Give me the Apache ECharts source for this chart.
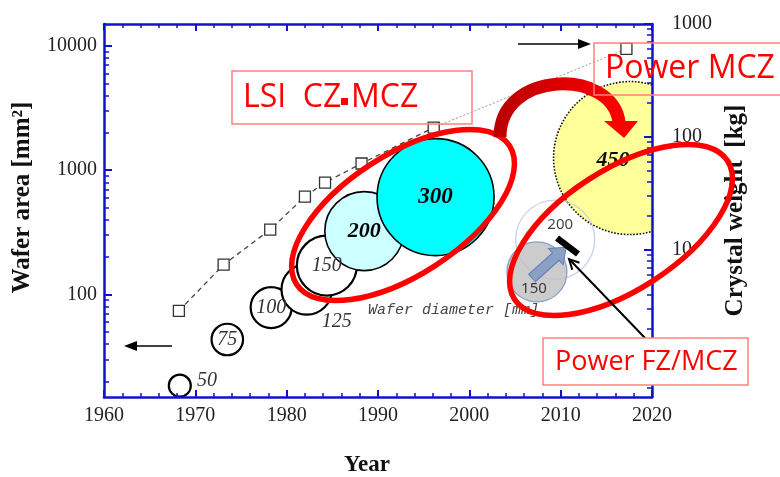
<!DOCTYPE html>
<html>
<head>
<meta charset="utf-8">
<title>Wafer area / crystal weight</title>
<script src="https://cdn.jsdelivr.net/npm/echarts@6.0.0/dist/echarts.min.js"></script>
<style>
  html, body { margin: 0; padding: 0; background: #fff; }
  #chart { width: 780px; height: 477px; }
</style>
</head>
<body>
<div id="chart"></div>
<script>
// wafer area (open squares, left axis)
var areaYears = [1968.2, 1973.1, 1978.2, 1982.0, 1984.2, 1988.2, 1996.1, 2017.2];
var areaValues = [74, 174, 333, 614, 796, 1133, 2203, 9460];

// LSI CZ/MCZ wafers: year, height on left axis, diameter [mm]
var lsiYears = [1968.3, 1973.5, 1978.3, 1982.2, 1984.4, 1988.5, 1996.3];
var lsiPos = [18.5, 43.5, 78.6, 110, 171, 324, 608];
var lsiDiameters = [50, 75, 100, 125, 150, 200, 300];

// power FZ/MCZ wafers
var fzYears = [2009.4, 2007.4];
var fzPos = [277, 152];
var fzDiameters = [200, 150];

// power MCZ wafer
var mczYears = [2017.6];
var mczPos = [1253];
var mczDiameters = [450];

// tick labels
var areaTicks = [100, 1000, 10000];
var weightTicks = [1, 10, 100, 1000];

var blue = '#1212cc';
var red = '#ff0000';
var serif = 'Liberation Serif';
var sans = '"Open Sans", "DejaVu Sans"';

// minor ticks 2..9 in every decade between lo and hi
function minorTicks(lo, hi) {
  var out = [];
  for (var dec = lo; dec < hi; dec *= 10) {
    for (var k = 2; k <= 9; k++) out.push(+(k * dec).toPrecision(3));
  }
  return out;
}

// bubble size follows the wafer diameter; the 450 mm bubble is drawn on its own scale
function lsiSize(d) { return 3 + 0.38 * d; }
function mczSize(d) { return 0.34 * d; }

function plainNumber(v) { return String(Math.round(v * 100) / 100); }

var axisLine = { show: true, onZero: false, lineStyle: { color: blue, width: 2.5 } };

function xAxisCfg(pos, withLabels) {
  var ax = {
    type: 'value', position: pos, min: 1960, max: 2020, interval: 10, z: 10,
    axisLine: axisLine,
    axisTick: { inside: true, length: 7, lineStyle: { color: blue, width: 2 } },
    minorTick: { show: true, splitNumber: 5, length: 4, lineStyle: { color: blue, width: 1.5 } },
    axisLabel: { show: withLabels, margin: 9, color: '#222', fontFamily: serif, fontSize: 20, formatter: plainNumber },
    splitLine: { show: false },
    minorSplitLine: { show: false }
  };
  if (withLabels) {
    ax.name = 'Year';
    ax.nameLocation = 'middle';
    ax.nameGap = 57;
    ax.nameTextStyle = { fontFamily: serif, fontWeight: 'bold', fontSize: 23, color: '#111', padding: [0, 22, 0, 0] };
  }
  return ax;
}

function logAxisCfg(pos, min, max, ticks, major) {
  return {
    type: 'log', logBase: 10, position: pos, min: min, max: max, z: 10,
    axisLine: major ? axisLine : { show: false },
    axisTick: { inside: true, length: major ? 8 : 5, customValues: ticks, lineStyle: { color: blue, width: major ? 2 : 1.5 } },
    axisLabel: major
      ? { customValues: ticks, margin: pos === 'left' ? 7 : 20, color: '#222', fontFamily: serif, fontSize: 20, formatter: plainNumber }
      : { show: false },
    splitLine: { show: false }
  };
}

var leftAxis = logAxisCfg('left', 15, 15000, areaTicks, true);
leftAxis.name = 'Wafer area [mm²]';
leftAxis.nameLocation = 'middle';
leftAxis.nameRotate = 90;
leftAxis.nameGap = 69;
leftAxis.nameTextStyle = { fontFamily: serif, fontWeight: 'bold', fontSize: 25, color: '#111', padding: [0, 0, 0, 26] };

var rightAxis = logAxisCfg('right', 0.5, 1000, weightTicks, true);
rightAxis.name = 'Crystal weight  [kg]';
rightAxis.nameLocation = 'middle';
rightAxis.nameRotate = 90;
rightAxis.nameGap = 61;
rightAxis.nameTextStyle = { fontFamily: serif, fontWeight: 'bold', fontSize: 25, color: '#111' };

var lsiLabels = {
  50: { position: 'right', distance: 5, offset: [0, -5] },
  125: { position: 'inside', offset: [30, 32] },
  200: { fontWeight: 'bold', fontSize: 22, color: '#000' },
  300: { fontWeight: 'bold', fontSize: 23, color: '#000' }
};
var lsiFill = { 200: '#ccffff', 300: '#00ffff' };

var lsiData = lsiYears.map(function (y, i) {
  var d = lsiDiameters[i];
  return {
    value: [y, lsiPos[i], d],
    label: lsiLabels[d] || {},
    itemStyle: { color: lsiFill[d] || '#fff', borderWidth: d >= 200 ? 1.6 : 2.2 }
  };
});

var fzStyle = {
  200: { itemStyle: { color: 'rgba(255,255,255,0)', borderColor: '#b4c7e7', borderWidth: 1.3 }, label: { offset: [5, -15] } },
  150: { itemStyle: { color: '#bfbfbf', borderColor: '#7090c0', borderWidth: 1.3 }, label: { offset: [-3, 17] } }
};
var fzData = fzYears.map(function (y, i) {
  var d = fzDiameters[i];
  return { value: [y, fzPos[i], d], itemStyle: fzStyle[d].itemStyle, label: fzStyle[d].label };
});

var n = areaYears.length;
var lsiTrend = areaYears.slice(0, n - 1).map(function (y, i) { return [y, areaValues[i]]; });
var powerTrend = [[areaYears[n - 2], areaValues[n - 2]], [areaYears[n - 1], areaValues[n - 1]]];

var squareStyle = { color: '#fff', borderColor: '#333', borderWidth: 1.3 };

var chart = echarts.init(document.getElementById('chart'));

var option = {
  animation: false,
  textStyle: { fontFamily: serif },
  grid: { left: 104, right: 128, top: 24, bottom: 80, containLabel: false, outerBoundsMode: 'none' },
  xAxis: [xAxisCfg('bottom', true), xAxisCfg('top', false)],
  yAxis: [
    leftAxis,
    logAxisCfg('left', 15, 15000, minorTicks(10, 10000), false),
    rightAxis,
    logAxisCfg('right', 0.5, 1000, [0.6, 0.7, 0.8, 0.9].concat(minorTicks(1, 1000)), false)
  ],
  series: [
    {
      type: 'line', name: 'Wafer area', data: lsiTrend,
      symbol: 'rect', symbolSize: 11, itemStyle: squareStyle,
      lineStyle: { color: '#444', width: 1.3, type: [5, 4] }
    },
    {
      type: 'line', name: 'Wafer area (power)', data: powerTrend,
      symbol: function (v, p) { return p.dataIndex === 0 ? 'none' : 'rect'; },
      symbolSize: 11, itemStyle: squareStyle,
      lineStyle: { color: '#999', width: 1, type: [2, 2] }
    },
    {
      type: 'scatter', name: 'LSI CZ/MCZ', data: lsiData,
      symbolSize: function (v) { return lsiSize(v[2]); },
      itemStyle: { borderColor: '#000', opacity: 1 },
      label: {
        show: true, position: 'inside', formatter: function (p) { return p.value[2]; },
        fontFamily: serif, fontStyle: 'italic', fontSize: 20, color: '#333'
      }
    },
    {
      type: 'custom', name: 'Power MCZ', clip: true,
      data: mczYears.map(function (y, i) { return [y, mczPos[i], mczDiameters[i]]; }),
      renderItem: function (params, api) {
        var c = api.coord([api.value(0), api.value(1)]);
        var r = mczSize(api.value(2)) / 2;
        return {
          type: 'group',
          children: [
            { type: 'circle', shape: { cx: c[0], cy: c[1], r: r },
              style: { fill: '#ffff99', stroke: '#111', lineWidth: 1.6, lineDash: [1.6, 1.6] } },
            { type: 'text', x: c[0] - 17, y: c[1] + 2,
              style: { text: String(api.value(2)), fill: '#111', align: 'center', verticalAlign: 'middle',
                       font: 'italic bold 22px "Liberation Serif"' } }
          ]
        };
      }
    },
    {
      type: 'scatter', name: 'Power FZ/MCZ', data: fzData,
      symbolSize: function (v) { return lsiSize(v[2]); },
      label: {
        show: true, position: 'inside', formatter: function (p) { return p.value[2]; },
        fontFamily: 'Noto Sans', fontSize: 15, color: '#111'
      }
    }
  ],
  graphic: [
    { type: 'text', z: 40, x: 368, y: 310,
      style: { text: 'Wafer diameter [mm]', font: 'italic 15px "Liberation Mono"', fill: '#444', verticalAlign: 'middle' } },
    // blue block arrow and black bar in the FZ bubble
    { type: 'polygon', z: 41, x: 532, y: 278, rotation: 42 * Math.PI / 180,
      shape: { points: [[0, -5], [32, -5], [32, -11], [46, 0], [32, 11], [32, 5], [0, 5]] },
      style: { fill: '#8aa0c4', stroke: '#5f7fb3', lineWidth: 1 } },
    { type: 'line', z: 42, shape: { x1: 557, y1: 238, x2: 578, y2: 254 }, style: { stroke: '#000', lineWidth: 6.5 } },
    // ellipses
    { type: 'ellipse', z: 50, x: 403, y: 215, rotation: 33 * Math.PI / 180,
      shape: { cx: 0, cy: 0, rx: 127, ry: 60 }, style: { fill: null, stroke: red, lineWidth: 5.5 } },
    { type: 'ellipse', z: 50, x: 621, y: 230, rotation: 33 * Math.PI / 180,
      shape: { cx: 0, cy: 0, rx: 127, ry: 60 }, style: { fill: null, stroke: red, lineWidth: 5.5 } },
    // curved arrow
    { type: 'bezierCurve', z: 51,
      shape: { x1: 500, y1: 137, cpx1: 500, cpy1: 70, cpx2: 612, cpy2: 68, x2: 619, y2: 122 },
      style: { fill: null, lineWidth: 13,
               stroke: new echarts.graphic.LinearGradient(0, 0, 1, 0, [{ offset: 0, color: '#b80000' }, { offset: 1, color: '#ff0000' }]) } },
    { type: 'polygon', z: 51, shape: { points: [[604, 121], [638, 121], [624, 138]] }, style: { fill: red } },
    // axis pointer arrows
    { type: 'line', z: 52, shape: { x1: 172, y1: 346, x2: 130, y2: 346 }, style: { stroke: '#000', lineWidth: 1.6 } },
    { type: 'polygon', z: 52, shape: { points: [[124, 346], [137, 341], [137, 351]] }, style: { fill: '#000' } },
    { type: 'line', z: 52, shape: { x1: 518, y1: 44, x2: 582, y2: 44 }, style: { stroke: '#000', lineWidth: 1.6 } },
    { type: 'polygon', z: 52, shape: { points: [[591, 44], [578, 39], [578, 49]] }, style: { fill: '#000' } },
    { type: 'line', z: 52, shape: { x1: 645, y1: 338, x2: 570, y2: 260 }, style: { stroke: '#000', lineWidth: 2 } },
    { type: 'polyline', z: 52, shape: { points: [[579.5, 262.7], [569, 259], [572.3, 269.7]] }, style: { stroke: '#000', lineWidth: 2, fill: null } },
    // text boxes
    { type: 'rect', z: 60, shape: { x: 232, y: 71, width: 240, height: 53 }, style: { fill: null, stroke: '#ff8080', lineWidth: 1.5 } },
    { type: 'text', z: 61, x: 243, y: 98,
      style: { text: 'LSI  CZ', font: '32px ' + sans, fill: red, verticalAlign: 'middle' } },
    { type: 'rect', z: 61, shape: { x: 341, y: 98, width: 7, height: 7 }, style: { fill: red } },
    { type: 'text', z: 61, x: 351, y: 98,
      style: { text: 'MCZ', font: '32px ' + sans, fill: red, verticalAlign: 'middle' } },
    { type: 'rect', z: 60, shape: { x: 594, y: 43, width: 220, height: 52 }, style: { fill: null, stroke: '#ff8080', lineWidth: 1.5 } },
    { type: 'text', z: 61, x: 605, y: 69,
      style: { text: 'Power MCZ', font: '32px ' + sans, fill: red, verticalAlign: 'middle' } },
    { type: 'rect', z: 60, shape: { x: 543, y: 338, width: 205, height: 47 }, style: { fill: '#fff', stroke: '#ff8080', lineWidth: 1.5 } },
    { type: 'text', z: 61, x: 555, y: 362,
      style: { text: 'Power FZ/MCZ', font: '27px ' + sans, fill: red, verticalAlign: 'middle' } }
  ]
};

chart.setOption(option);
</script>
</body>
</html>
